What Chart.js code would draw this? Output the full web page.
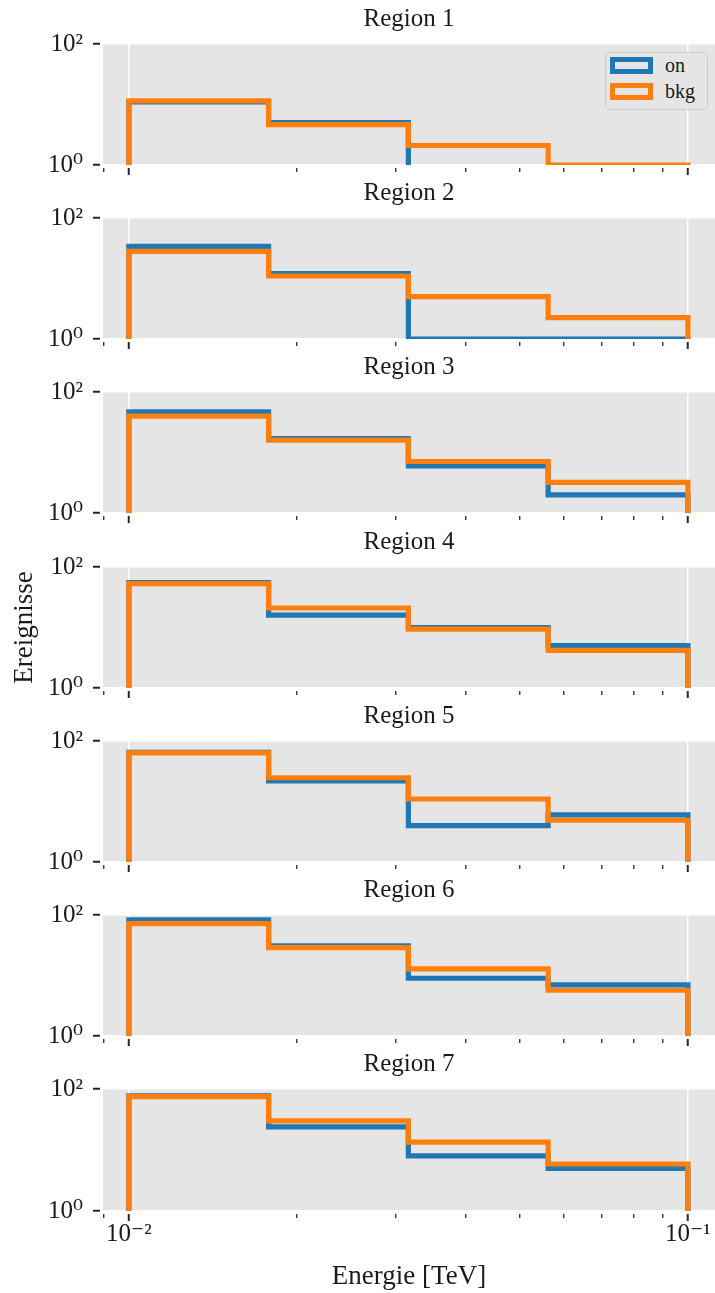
<!DOCTYPE html>
<html lang="de">
<head>
<meta charset="utf-8">
<title>Ereignisse pro Region</title>
<script src="https://cdn.jsdelivr.net/npm/chart.js@4.4.1/dist/chart.umd.min.js"></script>
<style>
  body { margin: 0; background: #fff; }
  #wrap { position: relative; width: 715px; height: 1293px; overflow: hidden; }
  #wrap canvas { position: absolute; left: 0; }
  #legend {
    position: absolute; left: 605px; top: 52px; width: 103px; height: 58px;
    box-sizing: border-box; border: 1.5px solid #cccccc; border-radius: 5px;
    background: #e5e5e5; z-index: 10;
    font-family: 'Liberation Serif', 'DejaVu Serif', serif; color: #1a1a1a;
  }
  .swatch { position: absolute; left: 4px; width: 43px; height: 17px; box-sizing: border-box; border: 5px solid; }
  .lbl { position: absolute; left: 59px; font-size: 20px; line-height: 20px; }
</style>
</head>
<body>
<div id="wrap"><div id="legend"></div></div>
<script>
// Bin-Kanten (TeV), logarithmisch von 10^-2 bis 10^-1
const energyEdges = [0.01, 0.01778, 0.03162, 0.05623, 0.1];
const regionNames = ["Region 1", "Region 2", "Region 3", "Region 4", "Region 5", "Region 6", "Region 7"];

// Ereignisse pro Bin
const onRegion1 = [11, 5, 0, 0];
const bkgRegion1 = [11.5, 4.65, 2.1, 1];
const onRegion2 = [34, 12, 1, 1];
const bkgRegion2 = [28, 11, 5, 2.25];
const onRegion3 = [47, 17, 6, 2];
const bkgRegion3 = [40, 16, 7.1, 3.2];
const onRegion4 = [55, 16, 10, 5];
const bkgRegion4 = [53, 21, 9.4, 4.2];
const onRegion5 = [65, 22, 4, 6];
const bkgRegion5 = [63.5, 24.7, 11, 4.9];
const onRegion6 = [83, 31, 9, 7];
const bkgRegion6 = [72, 28.8, 12.9, 5.7];
const onRegion7 = [77, 24, 8, 5];
const bkgRegion7 = [75, 30, 13.5, 5.9];

const onSeries = [onRegion1, onRegion2, onRegion3, onRegion4, onRegion5, onRegion6, onRegion7];
const bkgSeries = [bkgRegion1, bkgRegion2, bkgRegion3, bkgRegion4, bkgRegion5, bkgRegion6, bkgRegion7];

// Achsen-Ticks
const xTicks = [0.009, 0.01, 0.02, 0.03, 0.04, 0.05, 0.06, 0.07, 0.08, 0.09, 0.1];
const xLabelValues = [0.01, 0.1];
const xLabelTexts = ["10\u207B\u00B2", "10\u207B\u00B9"];
const yTicks = [1, 100];
const yTickLabels = ["10\u2070", "10\u00B2"];

const seriesLabels = ["on", "bkg"];
const seriesColors = ["#1f77b4", "#ff7f0e"];

const textColor = "#1a1a1a";
const tickColor = "#262626";
const yFloor = 0.1; // unterhalb der Achse -> wird abgeschnitten

Chart.defaults.font.family = "'Liberation Serif', 'DejaVu Serif', serif";
Chart.defaults.color = textColor;

// Grauer Hintergrund der Zeichenfläche
const panelBackground = {
    id: "panelBackground",
    beforeDraw(chart) {
        const { ctx, chartArea: a } = chart;
        ctx.save();
        ctx.fillStyle = "#e5e5e5";
        ctx.fillRect(a.left, a.top, a.width, a.height);
        ctx.restore();
    },
};

// Stufen-Histogramm als Punktliste
const stepPoints = (counts) => {
    const pts = [{ x: energyEdges[0], y: yFloor }];
    counts.forEach((c, i) => pts.push({ x: energyEdges[i], y: c > 0 ? c : yFloor }));
    pts.push({ x: energyEdges[energyEdges.length - 1], y: yFloor });
    return pts;
};

const isMajor = (ctx) => ctx.tick && xLabelValues.includes(ctx.tick.value);

const wrap = document.getElementById("wrap");

regionNames.forEach((name, i) => {
    const last = i === regionNames.length - 1;
    const canvas = document.createElement("canvas");
    canvas.width = 715;
    canvas.height = last ? 248 : 190;
    canvas.style.top = Math.round(i * 174.2) + "px";
    wrap.appendChild(canvas);

    new Chart(canvas.getContext("2d"), {
        type: "line",
        data: {
            datasets: [
                { label: seriesLabels[0], data: stepPoints(onSeries[i]), borderColor: seriesColors[0], order: 1 },
                { label: seriesLabels[1], data: stepPoints(bkgSeries[i]), borderColor: seriesColors[1], order: 0 },
            ],
        },
        options: {
            responsive: false,
            animation: false,
            events: [],
            elements: {
                line: { borderWidth: 5.2, stepped: "before", fill: false, tension: 0, borderJoinStyle: "miter", borderCapStyle: "butt" },
                point: { radius: 0 },
            },
            layout: { padding: { top: 0, left: 0, right: 0, bottom: last ? 0 : 14 } },
            plugins: {
                legend: { display: false },
                tooltip: { enabled: false },
                title: {
                    display: true,
                    text: name,
                    fullSize: false,
                    color: textColor,
                    font: { size: 25, weight: "normal" },
                    padding: { top: 4, bottom: 10 },
                },
            },
            scales: {
                x: {
                    type: "logarithmic",
                    min: 0.00899,
                    max: 0.1118,
                    afterBuildTicks: (s) => { s.ticks = xTicks.map((v) => ({ value: v })); },
                    afterFit: (s) => { if (last) s.height = 82; },
                    ticks: {
                        display: last,
                        autoSkip: false,
                        maxRotation: 0,
                        padding: -2,
                        color: textColor,
                        font: { size: 25 },
                        callback: (v) => {
                            const k = xLabelValues.indexOf(v);
                            return k >= 0 ? xLabelTexts[k] : "";
                        },
                    },
                    grid: {
                        color: (c) => (isMajor(c) ? "#ffffff" : "rgba(0,0,0,0)"),
                        lineWidth: 1.5,
                        tickLength: 10,
                        tickColor: tickColor,
                        tickWidth: (c) => (isMajor(c) ? 2 : 1.3),
                        tickBorderDash: (c) => (isMajor(c) ? [7, 3] : [4, 6]),
                        tickBorderDashOffset: 7,
                    },
                    border: { display: false },
                    title: {
                        display: last,
                        text: "Energie [TeV]",
                        color: textColor,
                        font: { size: 27 },
                        padding: { top: 4, bottom: 0 },
                    },
                },
                y: {
                    type: "logarithmic",
                    min: 1,
                    max: 100,
                    afterBuildTicks: (s) => { s.ticks = yTicks.map((v) => ({ value: v })); },
                    afterFit: (s) => { s.width = 103; },
                    ticks: {
                        padding: 10,
                        color: textColor,
                        font: { size: 25 },
                        callback: (v) => {
                            const k = yTicks.indexOf(v);
                            return k >= 0 ? yTickLabels[k] : "";
                        },
                    },
                    grid: {
                        color: "#ffffff",
                        lineWidth: 1.5,
                        tickLength: 10,
                        tickColor: tickColor,
                        tickWidth: 2,
                        tickBorderDash: [7, 3],
                    },
                    border: { display: false },
                    title: {
                        display: i === 3,
                        text: "Ereignisse",
                        color: textColor,
                        font: { size: 27 },
                        padding: { top: 9, bottom: 0 },
                    },
                },
            },
        },
        plugins: [panelBackground],
    });
});

// Legende oben rechts in Region 1
const legendEl = document.getElementById("legend");
seriesLabels.forEach((label, k) => {
    const sw = document.createElement("div");
    sw.className = "swatch";
    sw.style.top = (4 + k * 25.6) + "px";
    sw.style.borderColor = seriesColors[k];
    const tx = document.createElement("div");
    tx.className = "lbl";
    tx.style.top = (2 + k * 25.6) + "px";
    tx.textContent = label;
    legendEl.appendChild(sw);
    legendEl.appendChild(tx);
});
</script>
</body>
</html>
